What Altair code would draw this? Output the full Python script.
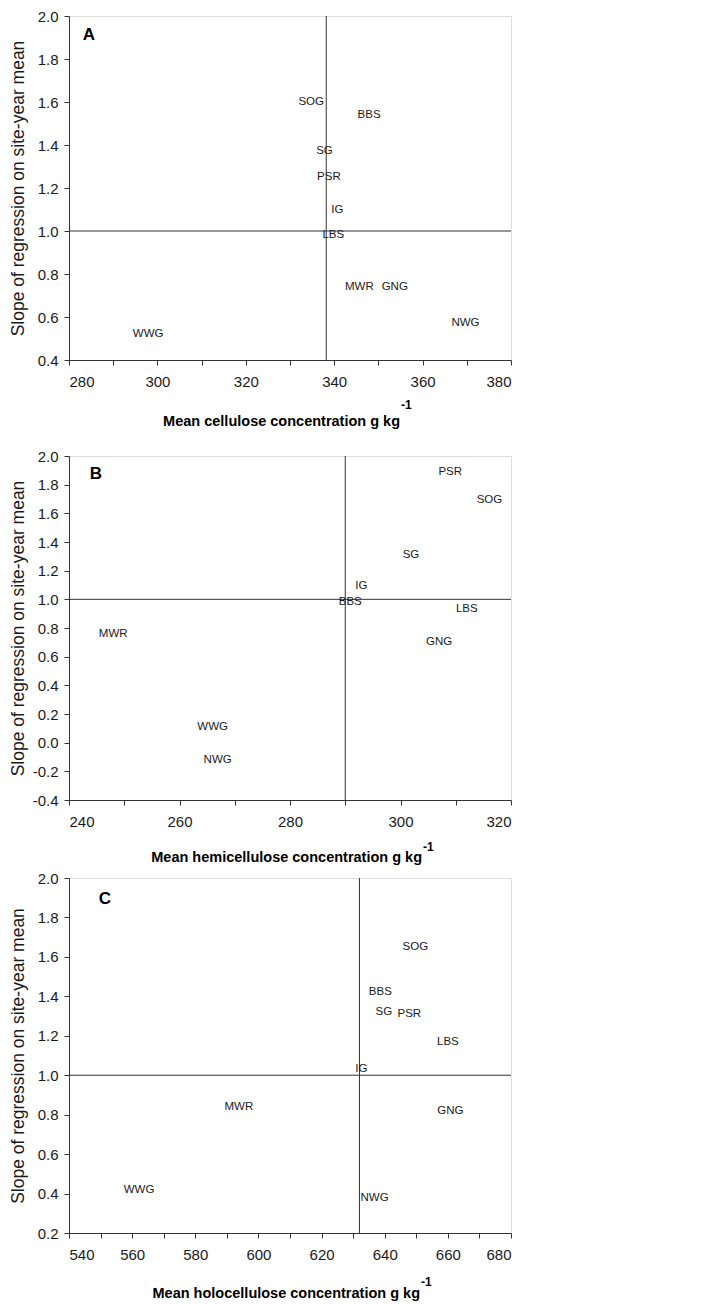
import altair as alt
import pandas as pd

REG = "Liberation Sans, Arial, sans-serif"
LINE = "#333333"
INK = "#1a1a1a"

# Panel A: cellulose
a_names = ["SOG", "BBS", "SG", "PSR", "IG", "LBS", "MWR", "GNG", "NWG", "WWG"]
a_x = [334.8, 347.9, 337.8, 338.8, 340.7, 339.8, 345.7, 353.7, 369.7, 297.9]
a_y = [1.60, 1.54, 1.37, 1.25, 1.10, 0.98, 0.74, 0.74, 0.57, 0.52]

# Panel B: hemicellulose
b_names = ["PSR", "SOG", "SG", "IG", "BBS", "LBS", "GNG", "MWR", "WWG", "NWG"]
b_x = [309.0, 316.1, 301.9, 292.9, 290.9, 312.0, 307.0, 248.0, 266.0, 266.9]
b_y = [1.89, 1.69, 1.31, 1.09, 0.98, 0.93, 0.70, 0.76, 0.11, -0.12]

# Panel C: holocellulose
c_names = ["SOG", "BBS", "SG", "PSR", "LBS", "IG", "MWR", "GNG", "WWG", "NWG"]
c_x = [649.7, 638.6, 639.7, 647.8, 660.0, 632.6, 593.8, 660.8, 562.2, 636.8]
c_y = [1.65, 1.42, 1.32, 1.31, 1.17, 1.03, 0.84, 0.82, 0.42, 0.38]

# reference lines (mean concentration, slope = 1)
mean_x = [338.2, 290.0, 632.0]
slope_ref = [1.0, 1.0, 1.0]

x_domains = [[280, 380], [240, 320], [540, 680]]
y_domains = [[0.4, 2.0], [-0.4, 2.0], [0.2, 2.0]]
x_titles = ["Mean cellulose concentration g kg",
            "Mean hemicellulose concentration g kg",
            "Mean holocellulose concentration g kg"]
letters = ["A", "B", "C"]
heights = [344, 344, 355]
W = 442


def ticks(lo, hi, step):
    n = int(round((hi - lo) / step))
    return [round(lo + i * step, 4) for i in range(n + 1)]


def panel(i, names, xs, ys, title_end, title_dy, sup_dy, letter_pos):
    h = heights[i]
    xscale = alt.Scale(domain=x_domains[i], nice=False, zero=False)
    yscale = alt.Scale(domain=y_domains[i], nice=False, zero=False)
    xaxis = alt.Axis(values=ticks(x_domains[i][0], x_domains[i][1], 10),
                     labelExpr="datum.value % 20 == 0 ? datum.label : ''",
                     title=None, grid=False, tickSize=5, labelPadding=9,
                     labelFont=REG, labelFontSize=15, labelColor=INK,
                     domainColor=LINE, tickColor=LINE)
    yaxis = alt.Axis(values=ticks(y_domains[i][0], y_domains[i][1], 0.2),
                     format=".1f",
                     labelExpr="replace(datum.label, '\u2212', '-')",
                     title="Slope of regression on site-year mean",
                     grid=False, tickSize=5, labelPadding=6,
                     labelFont=REG, labelFontSize=15, labelColor=INK,
                     titleFont=REG, titleFontSize=17.5, titleFontWeight="normal",
                     titleColor=INK, titleX=-42,
                     domainColor=LINE, tickColor=LINE)
    X = lambda: alt.X("x:Q", scale=xscale, axis=xaxis)
    Y = lambda: alt.Y("y:Q", scale=yscale, axis=yaxis)

    df = pd.DataFrame({"name": names, "x": xs, "y": ys})
    labels = alt.Chart(df).mark_text(font=REG, fontSize=11.5, color=INK).encode(
        x=X(), y=Y(), text="name:N")
    vline = alt.Chart(pd.DataFrame({"x": [mean_x[i]]})).mark_rule(
        color=LINE, strokeWidth=1).encode(x=X())
    hline = alt.Chart(pd.DataFrame({"y": [slope_ref[i]]})).mark_rule(
        color=LINE, strokeWidth=1).encode(y=Y())
    letter = alt.Chart(pd.DataFrame({"t": [letters[i]]})).mark_text(
        font=REG, fontSize=17, fontWeight="bold", color="black",
        align="center", baseline="middle").encode(
        x=alt.value(letter_pos[0]), y=alt.value(letter_pos[1]), text="t:N")
    ttl = alt.Chart(pd.DataFrame({"t": [x_titles[i]]})).mark_text(
        font=REG, fontSize=14.5, fontWeight="bold", color="black",
        align="right", baseline="alphabetic").encode(
        x=alt.value(title_end), y=alt.value(h + title_dy), text="t:N")
    sup = alt.Chart(pd.DataFrame({"t": ["-1"]})).mark_text(
        font=REG, fontSize=12, fontWeight="bold", color="black",
        align="left", baseline="alphabetic").encode(
        x=alt.value(title_end + 1), y=alt.value(h + sup_dy), text="t:N")
    return alt.layer(vline, hline, labels, letter, ttl, sup).properties(
        width=W, height=h)


pA = panel(0, a_names, a_x, a_y, 331, 66, 49, (20, 19))
pB = panel(1, b_names, b_x, b_y, 353, 62, 51, (27, 18))
pC = panel(2, c_names, c_x, c_y, 351, 65, 53, (36, 21))

chart = alt.vconcat(alt.vconcat(pA, pB, spacing=19), pC, spacing=5).properties(
    padding={"left": 0, "top": 0, "right": 5, "bottom": 0}
).configure_view(stroke=LINE, strokeWidth=1).configure(background="white")

chart.save("out.html", embed_options={"renderer": "svg", "actions": False})
